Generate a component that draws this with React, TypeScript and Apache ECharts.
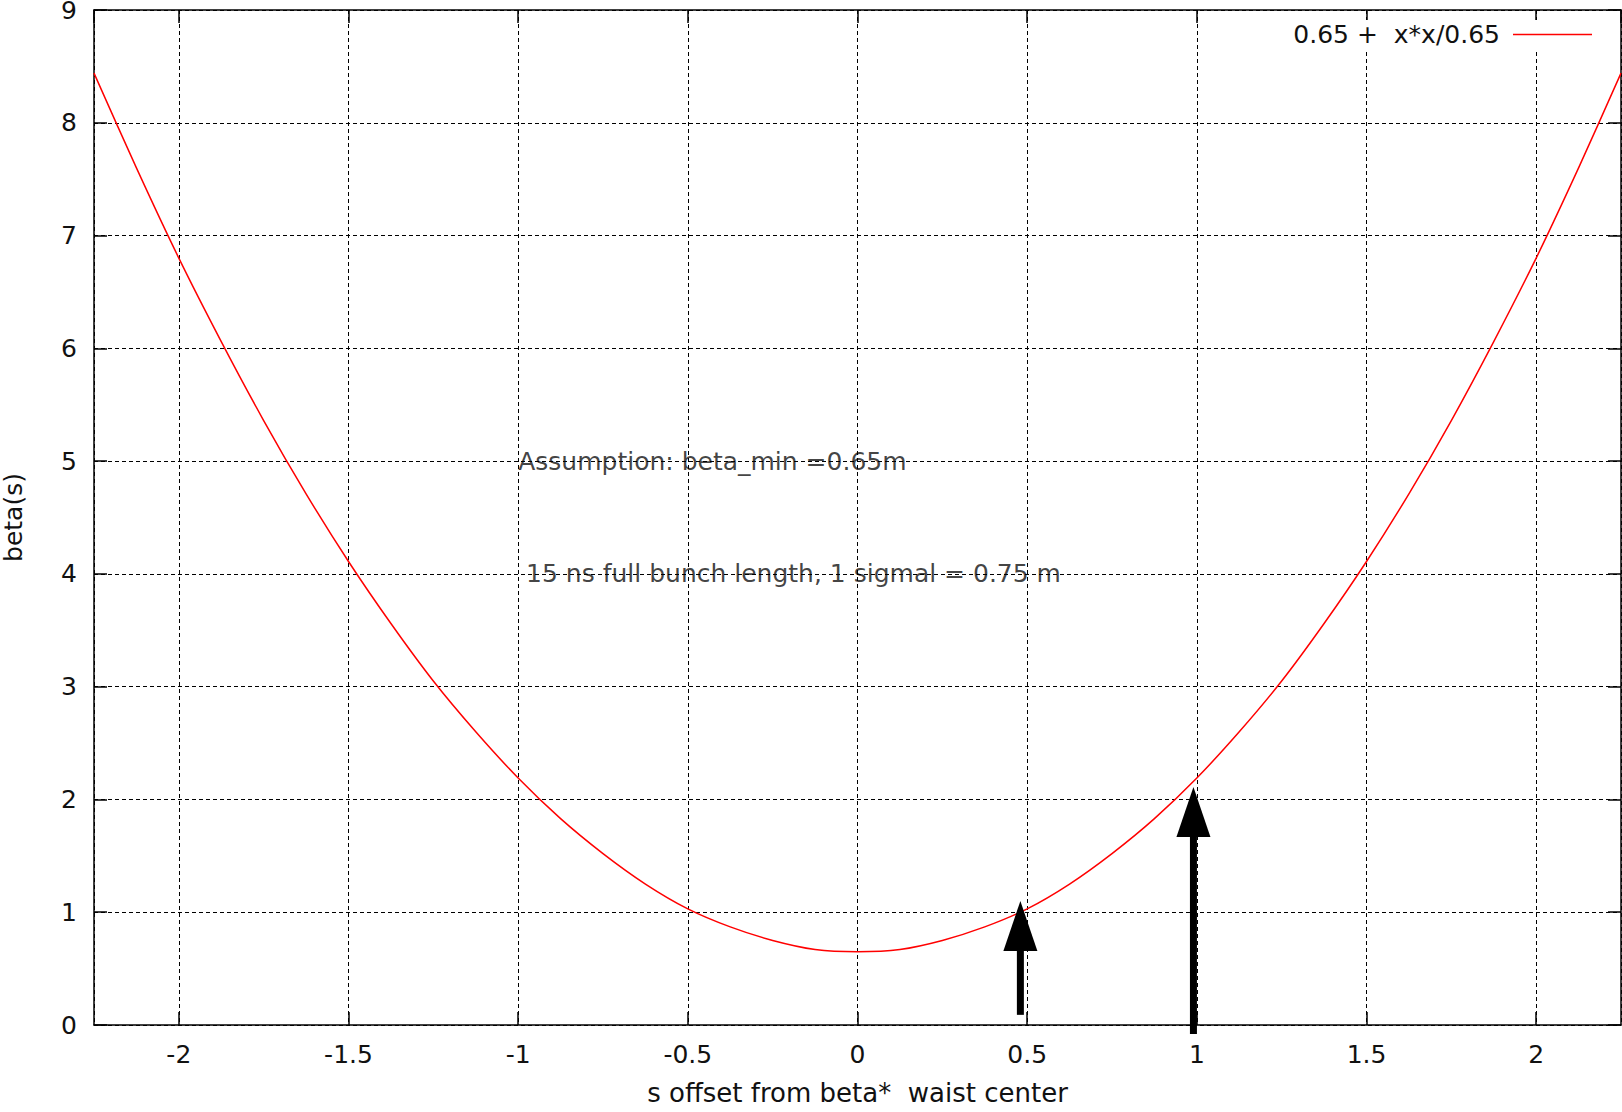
import React, { useEffect, useRef } from "react";
import * as echarts from "echarts";

const sValues = [
  -2.25, -2.125, -2, -1.875, -1.75, -1.625, -1.5, -1.375, -1.25, -1.125, -1, -0.875, -0.75, -0.625, -0.5, -0.375, -0.25, -0.125, 0,
  0.125, 0.25, 0.375, 0.5, 0.625, 0.75, 0.875, 1, 1.125, 1.25, 1.375, 1.5, 1.625, 1.75, 1.875, 2, 2.125, 2.25,
];
const betaValues = [
  8.44, 7.6, 6.8, 6.06, 5.36, 4.71, 4.11, 3.56, 3.05, 2.6, 2.19, 1.83, 1.52, 1.25, 1.03, 0.87, 0.75, 0.67, 0.65,
  0.67, 0.75, 0.87, 1.03, 1.25, 1.52, 1.83, 2.19, 2.6, 3.05, 3.56, 4.11, 4.71, 5.36, 6.06, 6.8, 7.6, 8.44,
];
const seriesName = "0.65 +  x*x/0.65";

// arrows: [x, yStart, yTip]
const arrowX = [0.48, 0.99];
const arrowStart = [0.09, -0.08];
const arrowTip = [1.1, 2.11];

const noteX = [-1, -1];
const noteY = [5, 4];
const noteText = ["Assumption: beta_min =0.65m", " 15 ns full bunch length, 1 sigmal = 0.75 m"];

const FONT = "DejaVu Sans";
const TXT = "#111";

export default function App() {
  const ref = useRef<HTMLDivElement>(null);
  useEffect(() => {
    if (!ref.current) return;
    const chart = echarts.init(ref.current, undefined, { renderer: "svg" });
    const grid = { left: 94, top: 10, right: 1, bottom: 87, outerBoundsMode: "none", containLabel: false };
    const dash = [4, 3];
    chart.setOption({
      animation: false,
      backgroundColor: "#fff",
      textStyle: { fontFamily: FONT },
      grid,
      legend: {
        right: 22,
        top: 20,
        align: "right",
        itemWidth: 79,
        itemHeight: 14,
        itemGap: 10,
        padding: [2, 8],
        backgroundColor: "#fff",
        textStyle: { fontFamily: FONT, fontSize: 25, color: TXT, padding: [0, 8, 0, 0] },
        data: [{ name: seriesName, icon: "path://M0,0 L100,0 L100,2 L0,2 Z" }],
      },
      xAxis: [
        {
          type: "value",
          min: -2.25,
          max: 2.25,
          splitNumber: 9,
          name: "s offset from beta*  waist center",
          nameLocation: "middle",
          nameGap: 55,
          nameTextStyle: { fontFamily: FONT, fontSize: 26, color: TXT },
          axisLine: { show: true, onZero: false, lineStyle: { color: "#000", width: 1.5 } },
          axisTick: { show: true, inside: true, length: 13, lineStyle: { color: "#000", width: 1.5 } },
          axisLabel: { fontFamily: FONT, fontSize: 25, color: TXT, margin: 17, showMinLabel: false, showMaxLabel: false },
          splitLine: { show: true, lineStyle: { color: "#000", width: 1, type: dash } },
        },
        {
          type: "value",
          position: "top",
          min: -2.25,
          max: 2.25,
          splitNumber: 9,
          axisLine: { show: true, onZero: false, lineStyle: { color: "#000", width: 1.5 } },
          axisTick: { show: true, inside: true, length: 13, lineStyle: { color: "#000", width: 1.5 } },
          axisLabel: { show: false },
          splitLine: { show: false },
        },
      ],
      yAxis: [
        {
          type: "value",
          min: 0,
          max: 9,
          interval: 1,
          name: "beta(s)",
          nameLocation: "middle",
          nameGap: 68,
          nameTextStyle: { fontFamily: FONT, fontSize: 25, color: TXT },
          axisLine: { show: true, onZero: false, lineStyle: { color: "#000", width: 1.5 } },
          axisTick: { show: true, inside: true, length: 13, lineStyle: { color: "#000", width: 1.5 } },
          axisLabel: { fontFamily: FONT, fontSize: 25, color: TXT, margin: 17 },
          splitLine: { show: true, lineStyle: { color: "#000", width: 1, type: dash } },
        },
        {
          type: "value",
          position: "right",
          min: 0,
          max: 9,
          interval: 1,
          axisLine: { show: true, onZero: false, lineStyle: { color: "#000", width: 1.5 } },
          axisTick: { show: true, inside: true, length: 13, lineStyle: { color: "#000", width: 1.5 } },
          axisLabel: { show: false },
          splitLine: { show: false },
        },
      ],
      series: [
        {
          type: "scatter",
          z: -1,
          silent: true,
          symbolSize: 0,
          data: noteX.map((x, i) => [x, noteY[i], noteText[i]]),
          label: {
            show: true,
            position: "right",
            distance: 0,
            formatter: (p: any) => p.value[2],
            fontFamily: FONT,
            fontSize: 25,
            color: TXT,
          },
        },
        {
          name: seriesName,
          type: "line",
          smooth: 0.3,
          symbol: "none",
          lineStyle: { color: "#ff0000", width: 1.5 },
          itemStyle: { color: "#ff0000" },
          data: sValues.map((s, i) => [s, betaValues[i]]),
        },
        {
          type: "custom",
          clip: false,
          silent: true,
          z: 5,
          encode: { x: 0, y: [1, 2] },
          data: arrowX.map((x, i) => [x, arrowStart[i], arrowTip[i]]),
          renderItem: (params: any, api: any) => {
            const x = api.value(0);
            const p0 = api.coord([x, api.value(1)]);
            const p1 = api.coord([x, api.value(2)]);
            const headLen = 50;
            const headHalf = 17;
            const shaftW = 7;
            return {
              type: "group",
              children: [
                {
                  type: "rect",
                  shape: { x: p0[0] - shaftW / 2, y: p1[1] + headLen - 2, width: shaftW, height: p0[1] - (p1[1] + headLen - 2) },
                  style: { fill: "#000" },
                },
                {
                  type: "polygon",
                  shape: { points: [[p1[0], p1[1]], [p1[0] - headHalf, p1[1] + headLen], [p1[0] + headHalf, p1[1] + headLen]] },
                  style: { fill: "#000" },
                },
              ],
            };
          },
        },
      ],
    });
    return () => chart.dispose();
  }, []);
  return <div ref={ref} style={{ position: "fixed", left: 0, top: 0, width: 1622, height: 1112 }} />;
}
